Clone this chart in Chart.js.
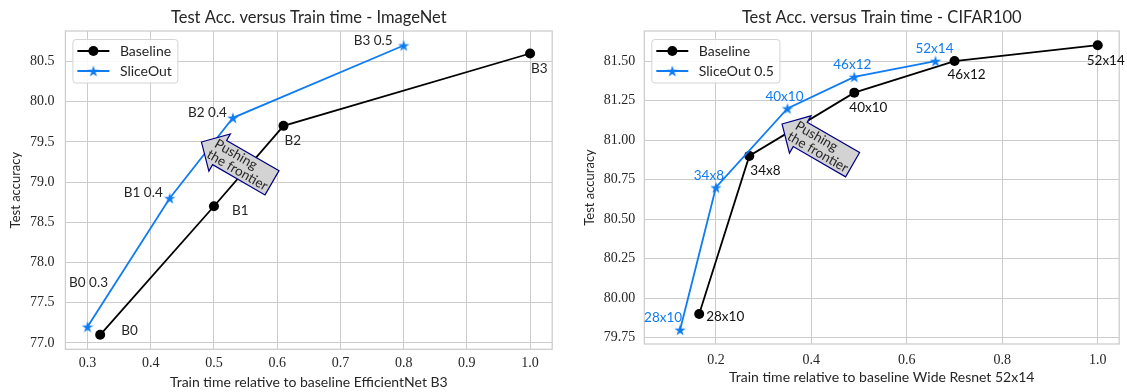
<!DOCTYPE html>
<html lang="en">
<head>
<meta charset="UTF-8">
<title>Test Acc. versus Train time</title>
<script src="https://cdn.jsdelivr.net/npm/chart.js"></script>
<style>
    body { margin: 0; padding: 0; background: #fff; }
    .wrap { position: relative; width: 1127px; height: 392px; }
    .plot { position: absolute; top: 0; height: 392px; }
    #imagenet { left: 0; width: 560px; }
    #cifar { left: 560px; width: 567px; }
</style>
</head>
<body>
<div class="wrap">
    <div class="plot" id="imagenet"><canvas id="imagenetChart"></canvas></div>
    <div class="plot" id="cifar"><canvas id="cifarChart"></canvas></div>
</div>
<script>
// ImageNet / EfficientNet
const inBaseTime = [0.32, 0.50, 0.61, 1.00];
const inBaseAcc = [77.1, 78.7, 79.7, 80.6];
const inBaseNames = ['B0', 'B1', 'B2', 'B3'];
const inSliceTime = [0.30, 0.43, 0.53, 0.80];
const inSliceAcc = [77.2, 78.8, 79.8, 80.7];
const inSliceNames = ['B0 0.3', 'B1 0.4', 'B2 0.4', 'B3 0.5'];
const inXTicks = [0.3, 0.4, 0.5, 0.6, 0.7, 0.8, 0.9, 1.0];
const inYTicks = [77.0, 77.5, 78.0, 78.5, 79.0, 79.5, 80.0, 80.5];

// CIFAR100 / Wide Resnet
const cfBaseTime = [0.165, 0.27, 0.49, 0.70, 1.00];
const cfBaseAcc = [79.9, 80.9, 81.3, 81.5, 81.6];
const cfBaseNames = ['28x10', '34x8', '40x10', '46x12', '52x14'];
const cfSliceTime = [0.125, 0.20, 0.35, 0.49, 0.66];
const cfSliceAcc = [79.8, 80.7, 81.2, 81.4, 81.5];
const cfSliceNames = ['28x10', '34x8', '40x10', '46x12', '52x14'];
const cfXTicks = [0.2, 0.4, 0.6, 0.8, 1.0];
const cfYTicks = [79.75, 80.00, 80.25, 80.50, 80.75, 81.00, 81.25, 81.50];

const BLUE = '#0f7cf2';
const TEXT = '#262626';
const GRID = '#cccccc';
const SANS = 'Lato';
const SERIF = 'Liberation Serif';

// label offsets in pixels from the point: [dx, dy, align]
const inBaseOffsets = [[21, -4, 'left'], [18, 4, 'left'], [1, 15, 'left'], [1, 15, 'left']];
const inSliceOffsets = [[1, -44, 'center'], [-7, -6, 'right'], [-6, -5, 'right'], [-11, -5, 'right']];
const cfBaseOffsets = [[7, 3, 'left'], [1, 15, 'left'], [-5, 15, 'left'], [-7, 14, 'left'], [-11, 15, 'left']];
const cfSliceOffsets = [[2, -12, 'right'], [-7, -12, 'center'], [-3, -12, 'center'], [-2, -12, 'center'], [-1, -12, 'center']];

function xy(xs, ys) {
    return xs.map((x, i) => ({ x: x, y: ys[i] }));
}

// filled five point star, like matplotlib's '*' marker
function makeStar(r, color) {
    const size = Math.ceil(r * 2 + 2);
    const c = document.createElement('canvas');
    c.width = size;
    c.height = size;
    const g = c.getContext('2d');
    g.fillStyle = color;
    g.beginPath();
    for (let i = 0; i < 10; i++) {
        const rad = i % 2 === 0 ? r : r * 0.382;
        const a = -Math.PI / 2 + i * Math.PI / 5;
        const px = size / 2 + rad * Math.cos(a);
        const py = size / 2 + rad * Math.sin(a) + r * 0.1;
        if (i === 0) g.moveTo(px, py); else g.lineTo(px, py);
    }
    g.closePath();
    g.fill();
    return c;
}
const star = makeStar(6, BLUE);

function drawArrow(ctx, cx, cy) {
    const L = 81.5, h = 28, head = 21, hh = 21.5;
    ctx.save();
    ctx.translate(cx, cy);
    ctx.rotate(30 * Math.PI / 180);
    ctx.beginPath();
    ctx.moveTo(-L / 2, 0);
    ctx.lineTo(-L / 2 + head, -hh);
    ctx.lineTo(-L / 2 + head, -h / 2);
    ctx.lineTo(L / 2, -h / 2);
    ctx.lineTo(L / 2, h / 2);
    ctx.lineTo(-L / 2 + head, h / 2);
    ctx.lineTo(-L / 2 + head, hh);
    ctx.closePath();
    ctx.fillStyle = '#d3d3d3';
    ctx.fill();
    ctx.strokeStyle = '#000080';
    ctx.lineWidth = 1.2;
    ctx.stroke();
    ctx.fillStyle = TEXT;
    ctx.font = '13.5px ' + SANS;
    ctx.textAlign = 'left';
    ctx.textBaseline = 'middle';
    ctx.fillText('Pushing', -28, -6.5);
    ctx.fillText('the frontier', -29.5, 6.5);
    ctx.restore();
}

function drawLegend(ctx, x0, y0, items) {
    ctx.save();
    ctx.font = '14px ' + SANS;
    const tw = Math.max(...items.map(it => ctx.measureText(it.label).width));
    const w = 47 + tw + 6, h = 43.5;
    ctx.beginPath();
    ctx.roundRect(x0, y0, w, h, 3);
    ctx.fillStyle = 'rgba(255,255,255,0.85)';
    ctx.fill();
    ctx.strokeStyle = '#d4d4d4';
    ctx.lineWidth = 1;
    ctx.stroke();
    items.forEach((it, i) => {
        const y = y0 + 11.5 + i * 20;
        ctx.strokeStyle = it.color;
        ctx.lineWidth = 1.8;
        ctx.beginPath();
        ctx.moveTo(x0 + 4.5, y);
        ctx.lineTo(x0 + 36.5, y);
        ctx.stroke();
        if (it.marker === 'circle') {
            ctx.fillStyle = it.color;
            ctx.beginPath();
            ctx.arc(x0 + 20.5, y, 5, 0, Math.PI * 2);
            ctx.fill();
        } else {
            ctx.drawImage(star, x0 + 20.5 - star.width / 2, y - star.height / 2);
        }
        ctx.fillStyle = TEXT;
        ctx.textAlign = 'left';
        ctx.textBaseline = 'middle';
        ctx.fillText(it.label, x0 + 47, y + 0.5);
    });
    ctx.restore();
}

const decorations = {
    id: 'decorations',
    beforeDatasetsDraw(chart) {
        const { ctx, chartArea: a } = chart;
        ctx.save();
        ctx.strokeStyle = GRID;
        ctx.lineWidth = 1.25;
        ctx.strokeRect(a.left, a.top, a.right - a.left, a.bottom - a.top);
        ctx.restore();
    },
    afterDatasetsDraw(chart, args, opts) {
        const { ctx, chartArea: a, scales } = chart;
        drawArrow(ctx, scales.x.getPixelForValue(opts.arrow[0]), scales.y.getPixelForValue(opts.arrow[1]));

        ctx.save();
        ctx.font = '13.5px ' + SANS;
        ctx.textBaseline = 'middle';
        opts.notes.forEach(n => {
            const meta = chart.getDatasetMeta(n.dataset);
            meta.data.forEach((pt, i) => {
                const o = n.offsets[i];
                ctx.fillStyle = n.color;
                ctx.textAlign = o[2];
                ctx.fillText(n.names[i], pt.x + o[0], pt.y + o[1]);
            });
        });
        ctx.restore();

        ctx.save();
        ctx.fillStyle = TEXT;
        ctx.font = '16.5px ' + SANS;
        ctx.textAlign = 'center';
        ctx.textBaseline = 'middle';
        ctx.fillText(opts.title, (a.left + a.right) / 2, 17.5);
        ctx.restore();

        drawLegend(ctx, a.left + 7.5, a.top + 8.5, opts.legend);
    }
};

function makeChart(id, cfg) {
    const H = 392;
    return new Chart(document.getElementById(id), {
        type: 'scatter',
        data: {
            datasets: [{
                label: 'Baseline',
                data: xy(cfg.baseX, cfg.baseY),
                showLine: true,
                borderColor: '#000000',
                backgroundColor: '#000000',
                borderWidth: 1.8,
                pointStyle: 'circle',
                pointRadius: 5,
                pointBorderWidth: 0,
                order: 1
            }, {
                label: cfg.sliceLabel,
                data: xy(cfg.sliceX, cfg.sliceY),
                showLine: true,
                borderColor: BLUE,
                backgroundColor: BLUE,
                borderWidth: 1.8,
                pointStyle: star,
                pointRadius: 6,
                order: 0
            }]
        },
        options: {
            responsive: true,
            maintainAspectRatio: false,
            animation: false,
            events: [],
            layout: { padding: { left: 0, right: cfg.padRight, top: 31, bottom: 0 } },
            plugins: {
                legend: { display: false },
                tooltip: { enabled: false },
                decorations: {
                    title: cfg.title,
                    arrow: cfg.arrow,
                    legend: [
                        { label: 'Baseline', color: '#000000', marker: 'circle' },
                        { label: cfg.sliceLabel, color: BLUE, marker: 'star' }
                    ],
                    notes: [
                        { dataset: 0, names: cfg.baseNames, offsets: cfg.baseOffsets, color: cfg.baseNoteColor },
                        { dataset: 1, names: cfg.sliceNames, offsets: cfg.sliceOffsets, color: cfg.sliceNoteColor }
                    ]
                }
            },
            scales: {
                x: {
                    type: 'linear',
                    min: cfg.xMin,
                    max: cfg.xMax,
                    afterBuildTicks: s => { s.ticks = cfg.xTicks.map(v => ({ value: v })); },
                    afterFit: s => { s.height = H - cfg.bottom; },
                    grid: { color: GRID, lineWidth: 1, drawTicks: false },
                    border: { display: false },
                    ticks: {
                        font: { family: SERIF, size: 14 },
                        color: TEXT,
                        padding: cfg.xTickPad,
                        maxRotation: 0,
                        callback: v => v.toFixed(1)
                    },
                    title: {
                        display: true,
                        text: cfg.xTitle,
                        font: { family: SANS, size: 14 },
                        color: TEXT,
                        padding: { top: 0, bottom: cfg.xTitlePad }
                    }
                },
                y: {
                    type: 'linear',
                    min: cfg.yMin,
                    max: cfg.yMax,
                    afterBuildTicks: s => { s.ticks = cfg.yTicks.map(v => ({ value: v })); },
                    afterFit: s => { s.width = cfg.left; },
                    grid: { color: GRID, lineWidth: 1, drawTicks: false },
                    border: { display: false },
                    ticks: {
                        font: { family: SERIF, size: 14 },
                        color: TEXT,
                        padding: cfg.yTickPad,
                        callback: v => v.toFixed(cfg.yDigits)
                    },
                    title: {
                        display: true,
                        text: 'Test accuracy',
                        font: { family: SANS, size: 13 },
                        color: TEXT,
                        padding: { top: cfg.yTitlePad, bottom: 0 }
                    }
                }
            }
        },
        plugins: [decorations]
    });
}

makeChart('imagenetChart', {
    title: 'Test Acc. versus Train time - ImageNet',
    xTitle: 'Train time relative to baseline EfficientNet B3',
    sliceLabel: 'SliceOut',
    baseX: inBaseTime, baseY: inBaseAcc, baseNames: inBaseNames, baseOffsets: inBaseOffsets,
    sliceX: inSliceTime, sliceY: inSliceAcc, sliceNames: inSliceNames, sliceOffsets: inSliceOffsets,
    baseNoteColor: TEXT, sliceNoteColor: TEXT,
    xTicks: inXTicks, yTicks: inYTicks, yDigits: 1,
    xMin: 0.265, xMax: 1.035, yMin: 76.92, yMax: 80.88,
    arrow: [0.536, 79.245],
    left: 65.4, padRight: 6, bottom: 349.3,
    xTickPad: 5.5, xTitlePad: 1.2, yTickPad: 11, yTitlePad: 8
});

makeChart('cifarChart', {
    title: 'Test Acc. versus Train time - CIFAR100',
    xTitle: 'Train time relative to baseline Wide Resnet 52x14',
    sliceLabel: 'SliceOut 0.5',
    baseX: cfBaseTime, baseY: cfBaseAcc, baseNames: cfBaseNames, baseOffsets: cfBaseOffsets,
    sliceX: cfSliceTime, sliceY: cfSliceAcc, sliceNames: cfSliceNames, sliceOffsets: cfSliceOffsets,
    baseNoteColor: '#111111', sliceNoteColor: BLUE,
    xTicks: cfXTicks, yTicks: cfYTicks, yDigits: 2,
    xMin: 0.05, xMax: 1.045, yMin: 79.71, yMax: 81.69,
    arrow: [0.4125, 80.973],
    left: 84.3, padRight: 3, bottom: 344,
    xTickPad: 7.5, xTitlePad: 6.5, yTickPad: 9, yTitlePad: 22.5
});
</script>
</body>
</html>
